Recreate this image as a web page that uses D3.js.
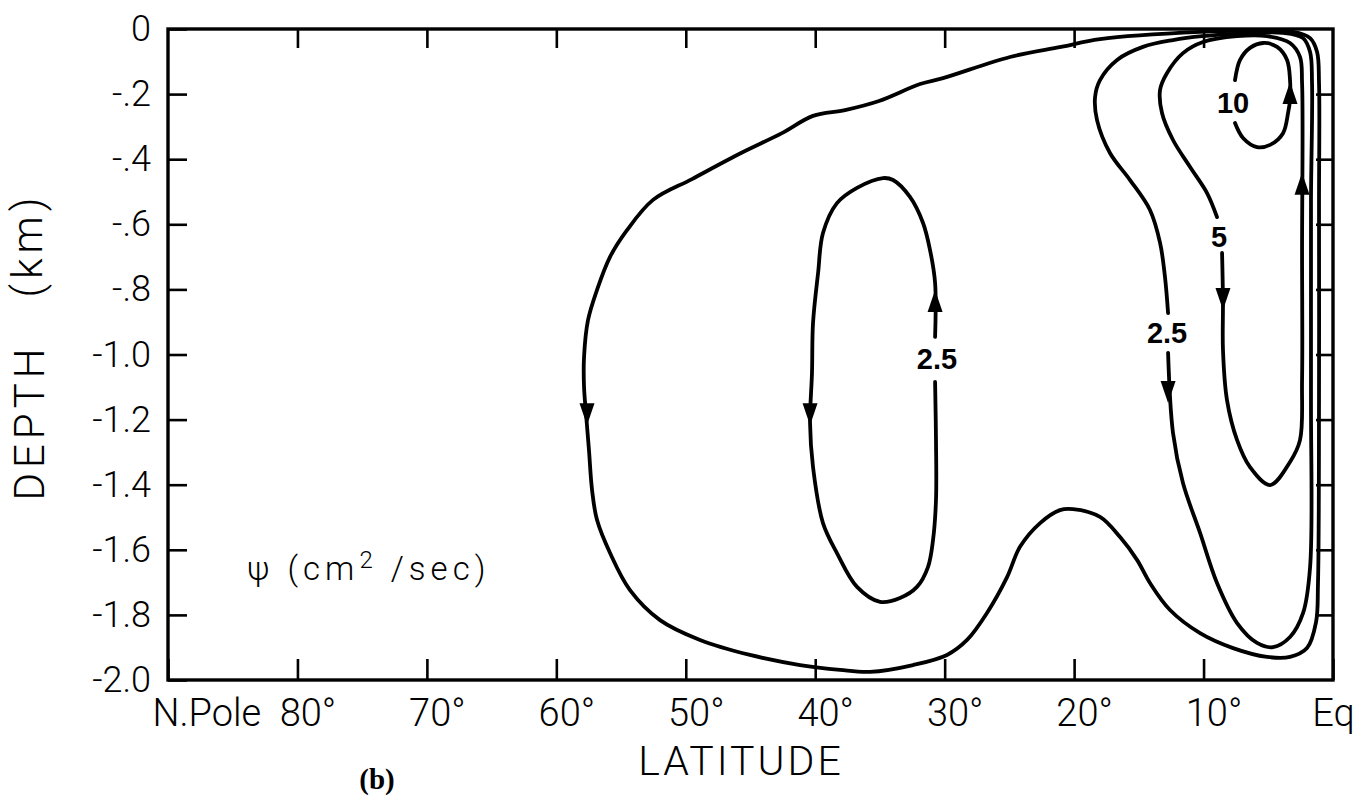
<!DOCTYPE html>
<html>
<head>
<meta charset="utf-8">
<script src="https://cdn.jsdelivr.net/npm/d3@7"></script>
<style>
  body { margin: 0; background: #fff; }
  svg { display: block; }
</style>
</head>
<body>
<svg id="chart" width="1368" height="799"></svg>
<script>
// axis values
const latTicks = [90, 80, 70, 60, 50, 40, 30, 20, 10, 0];
const depthTicks = [0, -0.2, -0.4, -0.6, -0.8, -1.0, -1.2, -1.4, -1.6, -1.8, -2.0];

// streamlines, [latitude (deg N), depth (km)]
const outerLoop = [
  [1.16, -1.702], [1.08, -1.140], [1.08, -0.525], [1.08, -0.166], [1.23, -0.071],
  [1.77, -0.028], [3.09, -0.009], [6.41, -0.006], [10.27, -0.009], [18.00, -0.031],
  [21.01, -0.055], [24.95, -0.086], [30.13, -0.151], [31.90, -0.169], [35.07, -0.221],
  [37.70, -0.249], [40.17, -0.267], [42.57, -0.320], [45.73, -0.381], [49.52, -0.461],
  [52.53, -0.525], [54.54, -0.618], [55.85, -0.700], [56.86, -0.802], [57.55, -0.894],
  [57.86, -1.008], [57.86, -1.100], [57.71, -1.180], [57.48, -1.293], [57.24, -1.416],
  [56.86, -1.508], [55.85, -1.610], [54.31, -1.724], [51.99, -1.816], [48.90, -1.877],
  [45.04, -1.923], [41.17, -1.954], [38.08, -1.969], [35.77, -1.975], [32.44, -1.954],
  [29.82, -1.923], [28.27, -1.877], [26.73, -1.794], [25.18, -1.684], [24.18, -1.591],
  [22.63, -1.518], [21.09, -1.478], [20.08, -1.475], [18.00, -1.499], [16.45, -1.561],
  [15.14, -1.631], [14.14, -1.702], [12.59, -1.785], [10.27, -1.856], [7.72, -1.902],
  [5.10, -1.929], [3.32, -1.929], [2.01, -1.902], [1.31, -1.822]
];

const loop40 = [
  [30.74, -1.084], [30.67, -1.263], [30.67, -1.447], [30.90, -1.570], [31.29, -1.653],
  [32.14, -1.714], [33.45, -1.748], [34.99, -1.760], [36.77, -1.714], [38.32, -1.610],
  [39.40, -1.518], [40.17, -1.346], [40.40, -1.210], [40.25, -1.057], [40.17, -0.903],
  [39.78, -0.750], [39.40, -0.627], [38.32, -0.535], [36.77, -0.488], [34.76, -0.458],
  [33.99, -0.464], [32.68, -0.516], [31.67, -0.596], [31.13, -0.679], [30.74, -0.780],
  [30.74, -0.946]
];

const right25 = [
  [12.74, -0.995], [12.36, -1.241], [11.59, -1.395], [10.27, -1.548], [8.96, -1.702],
  [7.41, -1.825], [5.87, -1.886], [4.63, -1.899], [3.32, -1.868], [2.31, -1.794],
  [1.77, -1.653], [1.70, -1.140], [1.70, -0.525], [1.62, -0.166], [1.77, -0.071],
  [2.31, -0.028], [3.86, -0.012], [7.41, -0.015], [10.12, -0.022], [12.36, -0.034],
  [14.68, -0.055], [16.68, -0.095], [18.00, -0.157], [18.38, -0.209], [18.23, -0.280],
  [17.23, -0.381], [15.68, -0.464], [14.14, -0.556], [13.36, -0.657], [12.98, -0.762],
  [12.74, -0.873]
];

const line5 = [
  [8.57, -0.688], [8.50, -0.833], [8.50, -0.986], [8.19, -1.140], [7.41, -1.263],
  [6.41, -1.346], [4.86, -1.401], [3.32, -1.330], [2.55, -1.263], [2.39, -1.078],
  [2.39, -0.679], [2.39, -0.166], [2.55, -0.086], [3.32, -0.043], [5.10, -0.022],
  [7.41, -0.022], [10.04, -0.040], [11.59, -0.074], [12.82, -0.135], [13.36, -0.187],
  [13.21, -0.258], [12.36, -0.341], [11.04, -0.424], [9.73, -0.504], [8.96, -0.578]
];

const line10 = [
  [7.57, -0.157], [7.18, -0.095], [6.41, -0.058], [5.40, -0.043], [4.32, -0.055],
  [3.55, -0.095], [3.32, -0.157], [3.32, -0.218], [3.47, -0.258], [3.86, -0.320],
  [4.86, -0.356], [5.87, -0.363], [6.95, -0.335], [7.57, -0.289]
];

// arrow tips: lat, depth, direction of flow
const arrows = [
  { lat: 57.63, depth: -1.217, dir: "down" },
  { lat: 40.40, depth: -1.217, dir: "down" },
  { lat: 30.74, depth: -0.802, dir: "up" },
  { lat: 12.74, depth: -1.149, dir: "down" },
  { lat: 8.50, depth: -0.863, dir: "down" },
  { lat: 3.32, depth: -0.163, dir: "up" },
  { lat: 2.39, depth: -0.442, dir: "up" }
];

const contourLabels = [
  { text: "10", lat: 7.72, depth: -0.227 },
  { text: "5", lat: 8.80, depth: -0.639 },
  { text: "2.5", lat: 12.82, depth: -0.934 },
  { text: "2.5", lat: 30.59, depth: -1.011 }
];

const svg = d3.select("#chart");
const font = "Roboto, 'Liberation Sans', sans-serif";

const x = d3.scaleLinear().domain([90, 0]).range([168, 1333]);
const y = d3.scaleLinear().domain([0, -2]).range([29, 680]);

svg.append("rect")
    .attr("width", 1368).attr("height", 799)
    .attr("fill", "#fff");

// axes, ticks pointing inwards
const depthFmt = d => d === 0 ? "0" : (d > -1 ? "-." + Math.round(-d * 10) : d.toFixed(1));
const latFmt = d => d === 90 ? "N.Pole" : (d === 0 ? "Eq" : d + "°");

function styleAxis(g, size) {
  g.select(".domain").remove();
  g.selectAll(".tick line").attr("stroke", "#000").attr("stroke-width", 2.6);
  g.selectAll(".tick text")
      .attr("fill", "#000")
      .style("font-family", font)
      .style("font-weight", 300)
      .style("font-size", size + "px");
}

svg.append("g")
    .attr("transform", `translate(${x(90)},0)`)
    .call(d3.axisLeft(y).tickValues(depthTicks).tickSizeInner(-19).tickSizeOuter(0)
      .tickPadding(17).tickFormat(depthFmt))
    .call(g => styleAxis(g, 36));

svg.append("g")
    .attr("transform", `translate(0,${y(-2)})`)
    .call(d3.axisBottom(x).tickValues(latTicks).tickSizeInner(-21).tickSizeOuter(0)
      .tickPadding(19).tickFormat(latFmt))
    .call(g => styleAxis(g, 38))
    .call(g => g.selectAll(".tick text")
      .attr("dx", d => (d === 0 ? 0 : 10))
      .filter(d => d === 90)
        .attr("text-anchor", "start")
        .attr("dx", -16));

svg.append("g")
    .attr("transform", `translate(0,${y(0)})`)
    .call(d3.axisTop(x).tickValues(latTicks.slice(1, -1)).tickSizeInner(-19)
      .tickSizeOuter(0).tickFormat(""))
    .call(g => styleAxis(g, 10));

svg.append("g")
    .attr("transform", `translate(${x(0)},0)`)
    .call(d3.axisRight(y).tickValues(depthTicks.slice(1, -1)).tickSizeInner(-17)
      .tickSizeOuter(0).tickFormat(""))
    .call(g => styleAxis(g, 10));

svg.append("rect")
    .attr("x", x(90)).attr("y", y(0))
    .attr("width", x(0) - x(90)).attr("height", y(-2) - y(0))
    .attr("fill", "none")
    .attr("stroke", "#000")
    .attr("stroke-width", 3.4);

// streamlines
const line = d3.line().x(d => x(d[0])).y(d => y(d[1]))
    .curve(d3.curveCatmullRom.alpha(0.5));
const closedLine = d3.line().x(d => x(d[0])).y(d => y(d[1]))
    .curve(d3.curveCatmullRomClosed.alpha(0.5));

const lines = svg.append("g")
    .attr("fill", "none")
    .attr("stroke", "#000")
    .attr("stroke-width", 3.8)
    .attr("stroke-linejoin", "round")
    .attr("stroke-linecap", "round");

lines.append("path").attr("d", closedLine(outerLoop));
[loop40, right25, line5, line10].forEach(pts => {
  lines.append("path").attr("d", line(pts));
});

svg.append("g")
  .selectAll("path")
  .data(arrows)
  .join("path")
    .attr("d", "M0,0L-7.5,-22L7.5,-22Z")
    .attr("fill", "#000")
    .attr("transform", d => `translate(${x(d.lat)},${y(d.depth)}) rotate(${d.dir === "up" ? 180 : 0})`);

svg.append("g")
  .selectAll("text")
  .data(contourLabels)
  .join("text")
    .attr("x", d => x(d.lat))
    .attr("y", d => y(d.depth))
    .attr("dy", "0.36em")
    .attr("text-anchor", "middle")
    .style("font-family", "'Liberation Sans', Arial, sans-serif")
    .style("font-weight", "bold")
    .style("font-size", "29px")
    .text(d => d.text);

// titles
svg.append("text")
    .attr("x", 741).attr("y", 775)
    .attr("text-anchor", "middle")
    .style("font-family", font).style("font-weight", 300)
    .style("font-size", "41px").style("letter-spacing", "3px")
    .text("LATITUDE");

svg.append("text")
    .attr("transform", "translate(44,422) rotate(-90)")
    .attr("text-anchor", "middle")
    .style("font-family", font).style("font-weight", 300)
    .style("font-size", "42px").style("letter-spacing", "5px")
    .text("DEPTH");

svg.append("text")
    .attr("transform", "translate(42,245) rotate(-90)")
    .attr("text-anchor", "middle")
    .style("font-family", font).style("font-weight", 300)
    .style("font-size", "42px").style("letter-spacing", "5px")
    .text("(km)");

const legend = svg.append("text")
    .attr("x", x(83.9)).attr("y", y(-1.693))
    .style("font-family", font).style("font-weight", 300)
    .style("font-size", "33px").style("letter-spacing", "5px");
legend.append("tspan").text("ψ (cm");
legend.append("tspan").attr("dy", -12).style("font-size", "24px").text("2");
legend.append("tspan").attr("dy", 12).text(" /sec)");

svg.append("text")
    .attr("x", 377).attr("y", 789)
    .attr("text-anchor", "middle")
    .style("font-family", "'Liberation Serif', 'Times New Roman', serif")
    .style("font-weight", "bold")
    .style("font-size", "29px")
    .text("(b)");
</script>
</body>
</html>
